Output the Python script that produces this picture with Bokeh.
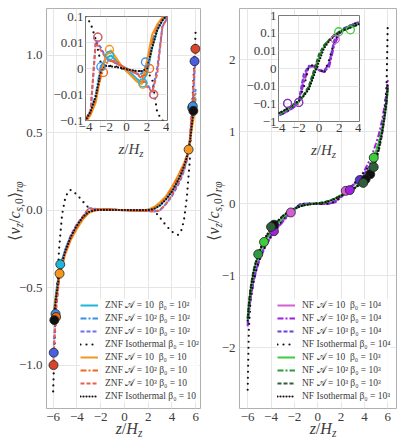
import numpy as np
from bokeh.plotting import figure
from bokeh.models import Row, Legend, LegendItem, FixedTicker, Div
from bokeh.embed import file_html
from bokeh.resources import INLINE

# ---------------- data ----------------
Z = [-6, -5.9, -5.75, -5.5, -5.25, -5, -4.75, -4.5, -4, -3.5, -3, -2.5, -2, -1.5, -1, -0.5,
     0, 0.5, 1, 1.5, 2, 2.5, 3, 3.5, 4, 4.5, 4.75, 5, 5.25, 5.5, 5.75, 5.9, 6]

ZNF_A10_B100 = [-0.70, -0.63, -0.53, -0.40, -0.32, -0.26, -0.21, -0.17, -0.105, -0.05, -0.015, 0.0005, 0.004, 0.005, 0.003, 0.001,
                -0.001, -0.002, -0.004, -0.0055, -0.002, 0.008, 0.03, 0.07, 0.12, 0.19, 0.23, 0.28, 0.34, 0.44, 0.62, 0.68, 0.72]
ZNF_A100_B100 = [-0.72, -0.65, -0.55, -0.41, -0.33, -0.26, -0.21, -0.165, -0.10, -0.045, -0.01, 0.001, 0.003, 0.003, 0.002, 0.001,
                 0.0, -0.001, -0.002, -0.002, 0.002, 0.012, 0.035, 0.075, 0.125, 0.19, 0.23, 0.28, 0.34, 0.45, 0.66, 0.74, 0.78]
ZNF_A1000_B100 = [-0.95, -0.80, -0.62, -0.44, -0.34, -0.27, -0.21, -0.16, -0.09, -0.045, 0.012, 0.008, 0.004, 0.003, 0.002, 0.001,
                  0.0, -0.001, -0.002, -0.003, -0.006, -0.009, 0.0, 0.04, 0.09, 0.16, 0.20, 0.25, 0.32, 0.45, 0.68, 0.90, 0.98]
ZNF_ISO_B100 = [-1.17, -0.92, -0.62, -0.25, -0.03, 0.07, 0.12, 0.13, 0.10, 0.055, 0.013, 0.002, 0.001, 0.001, 0.0008, 0.0,
                -0.0005, -0.0008, -0.001, -0.001, -0.0012, -0.004, -0.05, -0.10, -0.14, -0.16, -0.14, -0.07, 0.08, 0.32, 0.75, 1.0, 1.17]
ZNF_A10_B10 = [-0.70, -0.64, -0.56, -0.44, -0.36, -0.29, -0.24, -0.19, -0.12, -0.06, -0.02, -0.002, 0.005, 0.007, 0.004, 0.001,
               -0.001, -0.003, -0.005, -0.006, 0.003, 0.02, 0.05, 0.09, 0.15, 0.22, 0.26, 0.30, 0.35, 0.43, 0.56, 0.63, 0.68]
ZNF_A100_B10 = [-0.72, -0.65, -0.56, -0.43, -0.35, -0.28, -0.23, -0.18, -0.11, -0.055, -0.015, -0.003, 0.002, 0.003, 0.003, 0.001,
                0.0, -0.001, -0.002, -0.003, -0.002, 0.01, 0.04, 0.08, 0.14, 0.21, 0.25, 0.29, 0.35, 0.44, 0.63, 0.72, 0.76]
ZNF_A1000_B10 = [-1.02, -0.85, -0.64, -0.45, -0.35, -0.28, -0.22, -0.17, -0.095, -0.04, 0.01, 0.007, 0.004, 0.003, 0.002, 0.001,
                 0.0, -0.001, -0.002, -0.004, -0.007, -0.009, -0.002, 0.04, 0.10, 0.17, 0.21, 0.26, 0.33, 0.46, 0.72, 0.94, 1.06]
ZNF_ISO_B10 = [-0.73, -0.67, -0.56, -0.42, -0.34, -0.27, -0.22, -0.17, -0.10, -0.045, -0.012, -0.001, 0.001, 0.0008, 0.0005, 0.0002,
               -0.0003, -0.0006, -0.001, -0.001, 0.0, 0.008, 0.03, 0.07, 0.12, 0.19, 0.23, 0.28, 0.34, 0.43, 0.60, 0.66, 0.69]

NF_A10_B1e4 = [-1.68, -1.50, -1.30, -1.07, -0.90, -0.77, -0.67, -0.59, -0.45, -0.34, -0.24, -0.15, -0.08, -0.005, 0.001, 0.001,
               -0.001, -0.0015, 0.002, 0.03, 0.10, 0.19, 0.25, 0.32, 0.40, 0.51, 0.58, 0.68, 0.80, 0.97, 1.22, 1.42, 1.62]
NF_A100_B1e4 = [-1.70, -1.52, -1.32, -1.08, -0.92, -0.79, -0.69, -0.60, -0.46, -0.35, -0.25, -0.16, -0.09, -0.008, 0.001, 0.0015,
                -0.001, -0.002, 0.001, 0.02, 0.09, 0.17, 0.25, 0.34, 0.46, 0.62, 0.72, 0.84, 0.97, 1.15, 1.38, 1.55, 1.72]
NF_A1000_B1e4 = [-1.66, -1.48, -1.28, -1.05, -0.89, -0.76, -0.66, -0.57, -0.44, -0.33, -0.23, -0.14, -0.07, -0.003, 0.0015, 0.0012,
                 -0.0008, -0.0015, 0.003, 0.04, 0.11, 0.19, 0.26, 0.33, 0.42, 0.54, 0.61, 0.71, 0.84, 1.01, 1.27, 1.46, 1.65]
NF_ISO_B1e4 = [-2.58, -1.75, -1.33, -1.08, -0.91, -0.78, -0.68, -0.59, -0.45, -0.33, -0.22, -0.13, -0.06, -0.012, 0.0015, 0.002,
               0.0005, -0.003, 0.005, 0.03, 0.10, 0.18, 0.26, 0.35, 0.44, 0.55, 0.63, 0.73, 0.87, 1.05, 1.32, 1.65, 2.48]
NF_A10_B1e3 = [-1.62, -1.42, -1.20, -0.95, -0.80, -0.68, -0.60, -0.52, -0.39, -0.28, -0.19, -0.12, -0.075, -0.035, -0.012, -0.003,
               0.006, 0.018, 0.04, 0.075, 0.12, 0.16, 0.20, 0.26, 0.35, 0.50, 0.61, 0.73, 0.86, 1.02, 1.25, 1.42, 1.60]
NF_A100_B1e3 = [-1.60, -1.40, -1.18, -0.94, -0.79, -0.67, -0.58, -0.50, -0.37, -0.27, -0.18, -0.11, -0.07, -0.033, -0.011, -0.002,
                0.007, 0.02, 0.042, 0.078, 0.12, 0.16, 0.21, 0.27, 0.36, 0.48, 0.56, 0.68, 0.83, 1.00, 1.24, 1.42, 1.62]
NF_A1000_B1e3 = [-1.58, -1.38, -1.16, -0.92, -0.77, -0.65, -0.56, -0.48, -0.35, -0.25, -0.17, -0.105, -0.065, -0.03, -0.01, -0.001,
                 0.008, 0.02, 0.04, 0.075, 0.115, 0.155, 0.20, 0.25, 0.32, 0.43, 0.50, 0.60, 0.75, 0.95, 1.22, 1.40, 1.60]
NF_ISO_B1e3 = [-1.62, -1.42, -1.20, -0.95, -0.79, -0.66, -0.56, -0.47, -0.34, -0.25, -0.17, -0.11, -0.07, -0.035, -0.015, -0.004,
               0.004, 0.014, 0.035, 0.07, 0.11, 0.15, 0.20, 0.26, 0.33, 0.42, 0.50, 0.62, 0.78, 0.98, 1.25, 1.45, 1.68]

LABELS_L = ["ZNF 𝒜 = 10  β₀ = 10²", "ZNF 𝒜 = 10² β₀ = 10²", "ZNF 𝒜 = 10³ β₀ = 10²", "ZNF Isothermal β₀ = 10²",
            "ZNF 𝒜 = 10  β₀ = 10", "ZNF 𝒜 = 10² β₀ = 10", "ZNF 𝒜 = 10³ β₀ = 10", "ZNF Isothermal β₀ = 10"]
LABELS_R = ["NF 𝒜 = 10  β₀ = 10⁴", "NF 𝒜 = 10² β₀ = 10⁴", "NF 𝒜 = 10³ β₀ = 10⁴", "NF Isothermal β₀ = 10⁴",
            "NF 𝒜 = 10  β₀ = 10³", "NF 𝒜 = 10² β₀ = 10³", "NF 𝒜 = 10³ β₀ = 10³", "NF Isothermal β₀ = 10³"]
CURVES_L = [ZNF_A10_B100, ZNF_A100_B100, ZNF_A1000_B100, ZNF_ISO_B100, ZNF_A10_B10, ZNF_A100_B10, ZNF_A1000_B10, ZNF_ISO_B10]
CURVES_R = [NF_A10_B1e4, NF_A100_B1e4, NF_A1000_B1e4, NF_ISO_B1e4, NF_A10_B1e3, NF_A100_B1e3, NF_A1000_B1e3, NF_ISO_B1e3]

# marked points on the main panels (series index, z, value)
DOT_L_SERIES = [0, 4, 1, 5, 7, 2, 6, 4, 0, 1, 7, 2, 6]
DOT_L_Z = [-5.4, -5.46, -5.8, -5.75, -5.9, -5.95, -5.97, 5.4, 5.7, 5.75, 5.8, 5.9, 5.97]
DOT_L_V = [-0.35, -0.41, -0.67, -0.69, -0.71, -0.92, -1.0, 0.39, 0.66, 0.67, 0.64, 0.96, 1.04]
DOT_R_SERIES = [0, 0, 1, 1, 2, 7, 7, 7, 6, 6, 6, 4, 5, 4]
DOT_R_Z = [-2.3, 2.4, -3.75, 2.75, 3.6, -3.75, 4.5, 4.1, -4.0, 3.9, 4.8, -4.6, -5.1, 4.8]
DOT_R_V = [-0.12, 0.18, -0.38, 0.19, 0.33, -0.29, 0.41, 0.34, -0.32, 0.29, 0.51, -0.53, -0.70, 0.64]

# open rings in the insets
RING_L_SERIES = [2, 6, 4, 0, 5, 1, 4, 0, 5, 1, 2, 6]
RING_L_Z = [-2.8, -2.8, -1.66, -1.66, -2.25, -2.5, 1.6, 1.6, 2.25, 1.85, 2.65, 2.65]
RING_L_V = [0.016, 0.016, 0.0073, 0.005, -0.0015, 0.0007, -0.006, -0.0055, 0.0, 0.0025, -0.01, -0.01]
RING_R_SERIES = [4, 1, 4, 1, 4, 4, 0]
RING_R_Z = [-3.1, -3.1, -2.0, -2.0, 1.95, 3.1, 1.6]
RING_R_V = [-0.095, -0.095, -0.083, -0.083, 0.12, 0.155, 0.045]

XT = [-6, -4, -2, 0, 2, 4, 6]
YT_L = [-1.0, -0.5, 0.0, 0.5, 1.0]
YT_R = [-2, -1, 0, 1, 2]
XT_IN = [-4, -2, 0, 2, 4]
YT_IN_L = [-2, -1, 0, 1, 2]
YT_IN_L_LAB = ["−0.1", "−0.01", "0", "0.01", "0.1"]
YT_IN_R = [-3, -2, -1, 0, 1, 2, 3]
YT_IN_R_LAB = ["−1", "−0.1", "−0.01", "0", "0.01", "0.1", "1"]

X_TITLE = "<i>z</i>/<i>H</i><sub><i>z</i></sub>"
Y_TITLE = "⟨<i>v</i><sub><i>z</i></sub>/<i>c</i><sub><i>s</i>,0</sub>⟩<sub><i>rφ</i></sub>"

# ---------------- styles / layout ----------------
FONT = "Liberation Serif"
TXT = "#3c3c3c"
GRID = "#e6e6e6"
SOLID, DASHDOT, DASHED, SPARSE, DENSE = "solid", "6 2 2 2", "4 2", "0 6", "0 3"
STYLE_L = [("#1fb4d8", SOLID), ("#3d8ee6", DASHDOT), ("#6f6ff2", DASHED), ("#111111", SPARSE),
           ("#f5961e", SOLID), ("#ee6a1a", DASHDOT), ("#e8604c", DASHED), ("#111111", DENSE)]
STYLE_R = [("#d45fd4", SOLID), ("#a020e0", DASHDOT), ("#6a40d8", DASHED), ("#111111", SPARSE),
           ("#3ccc3c", SOLID), ("#2f9a3f", DASHDOT), ("#2e5e3a", DASHED), ("#111111", DENSE)]
DOTFILL_L = ["#1fb4d8", "#3d8ee6", "#4a5ee0", "#111111", "#f5961e", "#ee6a1a", "#d9442c", "#111111"]
DOTFILL_R = ["#d45fd4", "#a020e0", "#5a30c8", "#111111", "#3ccc3c", "#2f9a3f", "#2e5e3a", "#111111"]

W, H = 399, 439
WL = 202
BT, BB = 3, 31


def symlog(v, lin=0.01):
    v = np.asarray(v, float)
    a = np.abs(v)
    return np.where(a < lin, v / lin, np.sign(v) * (1 + np.log10(np.maximum(a, lin) / lin)))


def style_axes(p, xt, yt, ylab=None, size="13px", standoff=3):
    p.xaxis.ticker = FixedTicker(ticks=xt)
    p.yaxis.ticker = FixedTicker(ticks=yt)
    p.xaxis.major_label_overrides = {t: (str(t).replace("-", "−")) for t in xt}
    if ylab is None:
        ylab = [("%g" % t if isinstance(t, int) else "%.1f" % t).replace("-", "−") for t in yt]
    p.yaxis.major_label_overrides = {t: l for t, l in zip(yt, ylab)}
    for ax in (p.xaxis[0], p.yaxis[0]):
        ax.major_tick_line_color = None
        ax.minor_tick_line_color = None
        ax.axis_line_color = None
        ax.major_tick_out = 0
        ax.major_tick_in = 0
        ax.major_label_text_font = FONT
        ax.major_label_text_font_size = size
        ax.major_label_text_color = TXT
        ax.major_label_standoff = standoff
    p.xgrid.ticker = FixedTicker(ticks=xt)
    p.ygrid.ticker = FixedTicker(ticks=yt)
    p.grid.grid_line_color = GRID
    p.grid.grid_line_width = 1


def is_dot(d):
    return d.startswith("0 ")


def draw(p, curves, styles, transform=None):
    rs = []
    for v, (c, d) in zip(curves, styles):
        y = np.asarray(v, float) if transform is None else transform(v)
        rs.append(p.line(Z, y, line_color=c, line_width=2.2 if is_dot(d) else 2, line_dash=d,
                         line_cap="round" if is_dot(d) else "butt"))
    return rs


def main_panel(width, bl, br, xr, yr, curves, styles, labels, dz, dv, ds, dfill, yt, leg_x):
    p = figure(width=width, height=H, x_range=xr, y_range=yr, output_backend="svg", toolbar_location=None,
               min_border_left=bl, min_border_right=br, min_border_top=BT, min_border_bottom=BB)
    p.outline_line_color = "#b0b0b0"
    p.border_fill_color = "white"
    p.background_fill_color = "white"
    style_axes(p, XT, yt, standoff=4)
    rs = draw(p, curves, styles)
    p.scatter(dz, dv, size=9, fill_color=[dfill[s] for s in ds], line_color="#222222", line_width=0.8)
    leg = Legend(items=[LegendItem(label=l, renderers=[r]) for l, r in zip(labels, rs)], location=(leg_x, 6),
                 label_text_font=FONT, label_text_font_size="9.5px", label_text_color=TXT,
                 glyph_width=18, glyph_height=12, label_height=12, label_standoff=7, spacing=1,
                 padding=2, margin=0, border_line_color=None, background_fill_alpha=0.8)
    p.add_layout(leg)
    return p


def inset(fw, fh, yr, yt, ylab, curves, styles, rz, rv, rs_, left, top):
    bl, br, bt, bb = 40, 2, 8, 26
    p = figure(width=bl + fw + br, height=bt + fh + bb, x_range=(-4, 4), y_range=yr, output_backend="svg",
               toolbar_location=None, min_border_left=bl, min_border_right=br, min_border_top=bt, min_border_bottom=bb)
    p.border_fill_alpha = 0
    p.background_fill_color = "white"
    p.outline_line_color = "#7a7a7a"
    style_axes(p, XT_IN, yt, ylab=ylab, standoff=2)
    draw(p, curves, styles, transform=symlog)
    p.scatter(rz, symlog(rv), size=8, fill_color=None, line_color=[styles[s][0] for s in rs_], line_width=1.3)
    p.styles = {"position": "absolute", "left": f"{left}px", "top": f"{top - bt}px"}
    return p


pL = main_panel(WL, 46, 2, (-6.56, 6.4), (-1.28, 1.30), CURVES_L, STYLE_L, LABELS_L,
                DOT_L_Z, DOT_L_V, DOT_L_SERIES, DOTFILL_L, YT_L, 34)
pR = main_panel(W - WL, 37, 3, (-6.7, 6.75), (-2.84, 2.71), CURVES_R, STYLE_R, LABELS_R,
                DOT_R_Z, DOT_R_V, DOT_R_SERIES, DOTFILL_R, YT_R, 38)
iL = inset(82, 109, (-2, 2), YT_IN_L, YT_IN_L_LAB, CURVES_L, STYLE_L, RING_L_Z, RING_L_V, RING_L_SERIES, 45, 16)
iR = inset(81, 111, (-3, 3), YT_IN_R, YT_IN_R_LAB, CURVES_R, STYLE_R, RING_R_Z, RING_R_V, RING_R_SERIES, 238, 15)


# ---------------- axis titles as HTML text boxes ----------------
def title_div(html, cx, cy, size, w, h, rotate=False):
    st = {"position": "absolute", "left": f"{cx - w / 2:.1f}px", "top": f"{cy - h / 2:.1f}px",
          "font-family": FONT, "font-size": f"{size}px", "color": TXT, "line-height": f"{h}px",
          "text-align": "center", "white-space": "nowrap", "overflow": "visible"}
    if rotate:
        st["transform"] = "rotate(-90deg)"
        st["transform-origin"] = "50% 50%"
    html = html.replace("<sub>", f"<sub style='font-size:{size * 0.72:.1f}px;vertical-align:-{size * 0.17:.1f}px;line-height:0'>")
    return Div(text=f"<div style='width:{w}px;text-align:center'>{html}</div>", width=w, height=h, styles=st)


titles = [
    title_div(X_TITLE, 124, 423.5, 16, 60, 26),
    title_div(X_TITLE, 318, 423.5, 16, 60, 26),
    title_div(X_TITLE, 126, 144, 15, 60, 20),
    title_div(X_TITLE, 318.5, 145, 15, 60, 20),
    title_div(Y_TITLE, 10, 206, 16, 84, 20, rotate=True),
    title_div(Y_TITLE, 209, 206, 16, 84, 20, rotate=True),
]

layout = Row(children=[pL, pR, iL, iR] + titles)
open("out.html", "w").write(file_html(layout, INLINE))
